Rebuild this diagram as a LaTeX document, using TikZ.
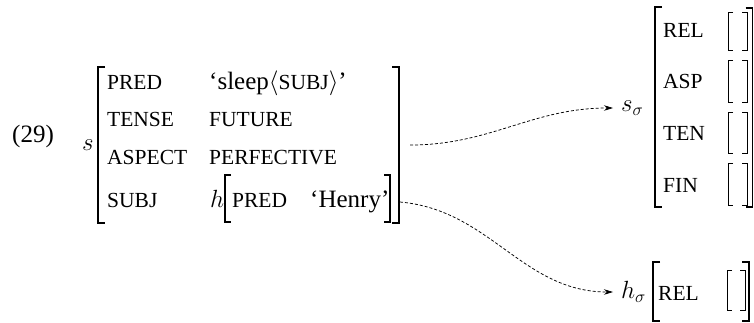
\documentclass[tikz,border=0pt]{standalone}
\usepackage{fontspec}
\setmainfont{Liberation Serif}
\usetikzlibrary{arrows.meta}
\newcommand\mysc[1]{{\fontsize{21.5}{21.5}\selectfont #1}}
\begin{document}
\begin{tikzpicture}[x=1pt,y=-1pt,
  txt/.style={font=\fontsize{25}{30}\selectfont, inner sep=0pt, anchor=base west},
  br/.style={line width=1.4pt, line cap=butt},
  sbr/.style={line width=1pt},
  arr/.style={densely dashed, line width=0.75pt, -{Stealth[length=9pt,width=5.5pt]}}]
\useasboundingbox (0,0) rectangle (754,322);
% left f-structure
\node[txt] (ex) at (12,142) {(29)};
\node[txt] (s) at (82,150) {$s$};
\draw[br] (105,67) -- (98,67) -- (98,223) -- (105,223);
\draw[br] (392,67) -- (399,67) -- (399,223) -- (392,223);
\node[txt] (pred) at (107,89) {\mysc{PRED}};
\node[txt] (predv) at (209,89) {‘sleep$\langle$\mysc{SUBJ}$\rangle$’};
\node[txt] (tense) at (107,126) {\mysc{TENSE}};
\node[txt] (tensev) at (209,126) {\mysc{FUTURE}};
\node[txt] (aspect) at (107,164) {\mysc{ASPECT}};
\node[txt] (aspectv) at (209,164) {\mysc{PERFECTIVE}};
\node[txt] (subj) at (107,207) {\mysc{SUBJ}};
\node[txt] (h) at (210,207) {$h$};
\draw[br] (231,175) -- (225,175) -- (225,222) -- (231,222);
\draw[br] (384,175) -- (390,175) -- (390,222) -- (384,222);
\node[txt] (hpred) at (232,207) {\mysc{PRED}};
\node[txt] (henry) at (310,207) {‘Henry’};
% s sigma
\node[txt, anchor=west] (ssig) at (621,108) {$s_\sigma$};
\draw[br] (662,7) -- (655,7) -- (655,207) -- (662,207);
\draw[br] (745.5,8) -- (752.5,8) -- (752.5,207) -- (745.5,207);
\node[txt] (rel) at (663,37) {\mysc{REL}};
\node[txt] (asp) at (663,88) {\mysc{ASP}};
\node[txt] (ten) at (663,140) {\mysc{TEN}};
\node[txt] (fin) at (663,192) {\mysc{FIN}};
\foreach \a/\b in {12/50,60/102,112/153,163/205}{
  \draw[sbr] (733,\a) -- (728,\a) -- (728,\b) -- (733,\b);
  \draw[sbr] (742,\a) -- (747,\a) -- (747,\b) -- (742,\b);
}
% h sigma
\node[txt, anchor=west] (hsig) at (621,292) {$h_\sigma$};
\draw[br] (660,262) -- (653,262) -- (653,321) -- (660,321);
\draw[br] (742,262) -- (749,262) -- (749,321) -- (742,321);
\node[txt] (hrel) at (658,300) {\mysc{REL}};
\draw[sbr] (732,270) -- (727,270) -- (727,310) -- (732,310);
\draw[sbr] (740,270) -- (745,270) -- (745,310) -- (740,310);
% connectors
\coordinate (sout) at (410,145);
\coordinate (hout) at (400,202);
\draw[arr] (sout) to[out=0,in=180] ([xshift=-8pt]ssig.west);
\draw[arr] (hout) to[out=-5,in=180] ([xshift=-8pt]hsig.west);
\end{tikzpicture}
\end{document}
